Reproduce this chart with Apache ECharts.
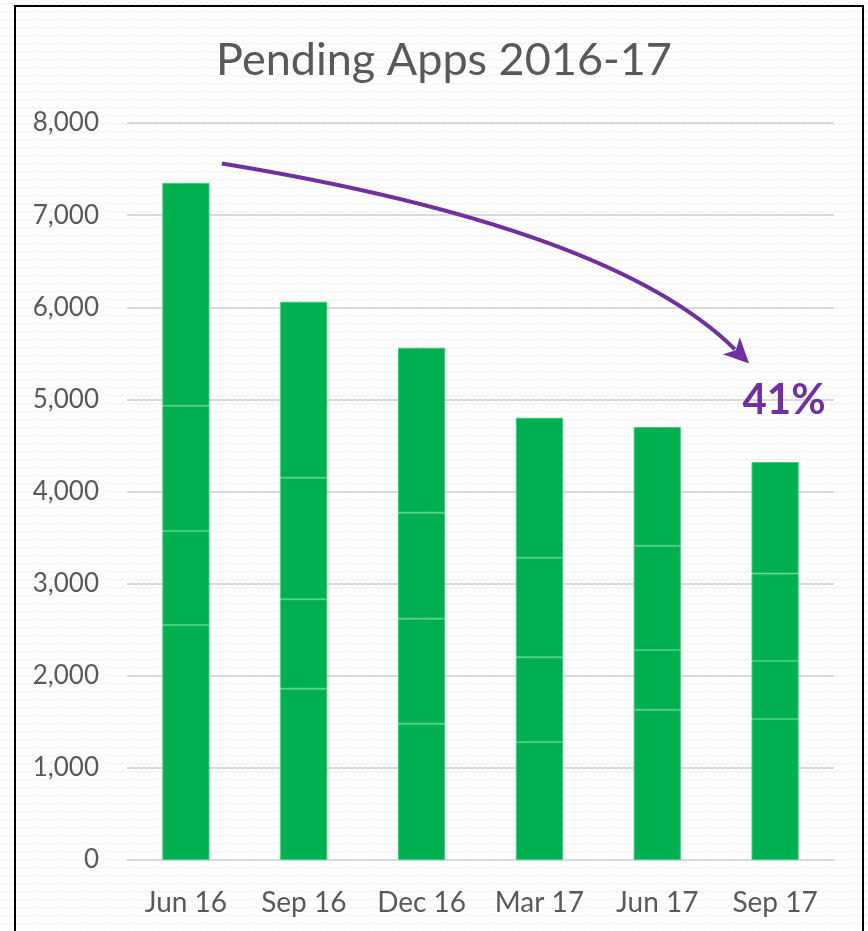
<!DOCTYPE html>
<html>
<head>
    <meta charset="utf-8">
    <title>Pending Apps 2016-17</title>
    <script src="https://cdn.jsdelivr.net/npm/echarts@6.0.0/dist/echarts.min.js"></script>
    <style>
        body { margin: 0; padding: 0; background: #fff; }
        #chart { width: 868px; height: 931px; }
    </style>
</head>
<body>
    <div id="chart"></div>
    <script>
        // quarters and stacked pieces, bottom to top
        const quarters = ['Jun 16', 'Sep 16', 'Dec 16', 'Mar 17', 'Jun 17', 'Sep 17'];
        const part1 = [2550, 1860, 1480, 1280, 1630, 1530];
        const part2 = [1020, 970, 1140, 920, 650, 630];
        const part3 = [1360, 1320, 1150, 1080, 1130, 950];
        const part4 = [2420, 1910, 1790, 1520, 1290, 1210];
        const yTicks = [0, 1000, 2000, 3000, 4000, 5000, 6000, 7000, 8000];
        const dropLabel = '41%';

        const green = '#00b050';
        const purple = '#7030a0';
        const textGrey = '#595959';

        // faint zigzag background like the Excel chart area
        function makePattern() {
            const c = document.createElement('canvas');
            c.width = 12; c.height = 8;
            const ctx = c.getContext('2d');
            ctx.fillStyle = '#ffffff';
            ctx.fillRect(0, 0, 12, 8);
            ctx.strokeStyle = '#ececec';
            ctx.lineWidth = 1;
            ctx.beginPath();
            ctx.moveTo(0, 5);
            ctx.quadraticCurveTo(3, 1, 6, 5);
            ctx.quadraticCurveTo(9, 1, 12, 5);
            ctx.stroke();
            return c;
        }

        const chart = echarts.init(document.getElementById('chart'));

        const parts = [part1, part2, part3, part4];
        const series = parts.map((d, i) => ({
            name: 'p' + (i + 1),
            type: 'bar',
            stack: 'total',
            barWidth: '40%',
            data: d,
            itemStyle: { color: green, borderColor: '#3ec97b', borderWidth: 1 },
            emphasis: { disabled: true }
        }));

        chart.setOption({
            animation: false,
            backgroundColor: '#ffffff',
            title: {
                text: 'Pending Apps 2016-17',
                left: 439,
                textAlign: 'center',
                top: 33,
                textStyle: { fontFamily: 'Lato', fontSize: 45, fontWeight: 'normal', color: textGrey }
            },
            grid: { left: 127, right: 34, top: 123, bottom: 71, containLabel: false },
            xAxis: {
                type: 'category',
                data: quarters,
                axisLine: { lineStyle: { color: '#d9d9d9', width: 2 } },
                axisTick: { show: false },
                axisLabel: { color: textGrey, fontFamily: 'Lato', fontSize: 28, margin: 29 }
            },
            yAxis: {
                type: 'value',
                min: yTicks[0],
                max: yTicks[yTicks.length - 1],
                interval: 1000,
                axisLine: { show: false },
                axisTick: { show: false },
                splitLine: { lineStyle: { color: '#d9d9d9', width: 2 } },
                axisLabel: {
                    color: textGrey, fontFamily: 'Lato', fontSize: 26, margin: 28,
                    formatter: v => v.toLocaleString('en-US')
                }
            },
            series: series
        });

        // annotation arrow, anchored to data positions
        const a = chart.convertToPixel({ gridIndex: 0 }, ['Jun 16', 7560]);
        const b = chart.convertToPixel({ gridIndex: 0 }, ['Sep 17', 5390]);
        const t = chart.convertToPixel({ gridIndex: 0 }, ['Sep 17', 4990]);
        const x1 = a[0] + 36, y1 = a[1];
        const x2 = b[0] - 26, y2 = b[1];
        const cpx = x1 + (x2 - x1) * 0.74, cpy = y1 + (y2 - y1) * 0.32;
        // arrowhead oriented along the end tangent
        const ang = Math.atan2(y2 - cpy, x2 - cpx);
        const hl = 25, hw = 12;
        const bx = x2 - hl * Math.cos(ang), by = y2 - hl * Math.sin(ang);
        const nx = -Math.sin(ang), ny = Math.cos(ang);
        const lx = x2 - (hl - 5) * Math.cos(ang), ly = y2 - (hl - 5) * Math.sin(ang);

        chart.setOption({
            graphic: [
                {
                    type: 'rect', z: -10, silent: true,
                    shape: { x: 0, y: 0, width: 868, height: 931 },
                    style: { fill: { image: makePattern(), repeat: 'repeat' } }
                },
                {
                    type: 'rect', z: 100, silent: true,
                    shape: { x: 15, y: 6, width: 848, height: 940 },
                    style: { fill: null, stroke: '#000', lineWidth: 2 }
                },
                {
                    type: 'bezierCurve', z: 100, silent: true,
                    shape: { x1: x1, y1: y1, x2: lx, y2: ly, cpx1: cpx, cpy1: cpy },
                    style: { stroke: purple, lineWidth: 4, fill: null }
                },
                {
                    type: 'polygon', z: 100, silent: true,
                    shape: { points: [[x2, y2], [bx + nx * hw, by + ny * hw], [bx + (x2 - bx) * 0.25, by + (y2 - by) * 0.25], [bx - nx * hw, by - ny * hw]] },
                    style: { fill: purple }
                },
                {
                    type: 'text', z: 100, silent: true,
                    x: t[0] + 9, y: t[1],
                    style: {
                        text: dropLabel, fill: purple, align: 'center', verticalAlign: 'middle',
                        font: 'bold 42px Lato'
                    }
                }
            ]
        });
    </script>
</body>
</html>
